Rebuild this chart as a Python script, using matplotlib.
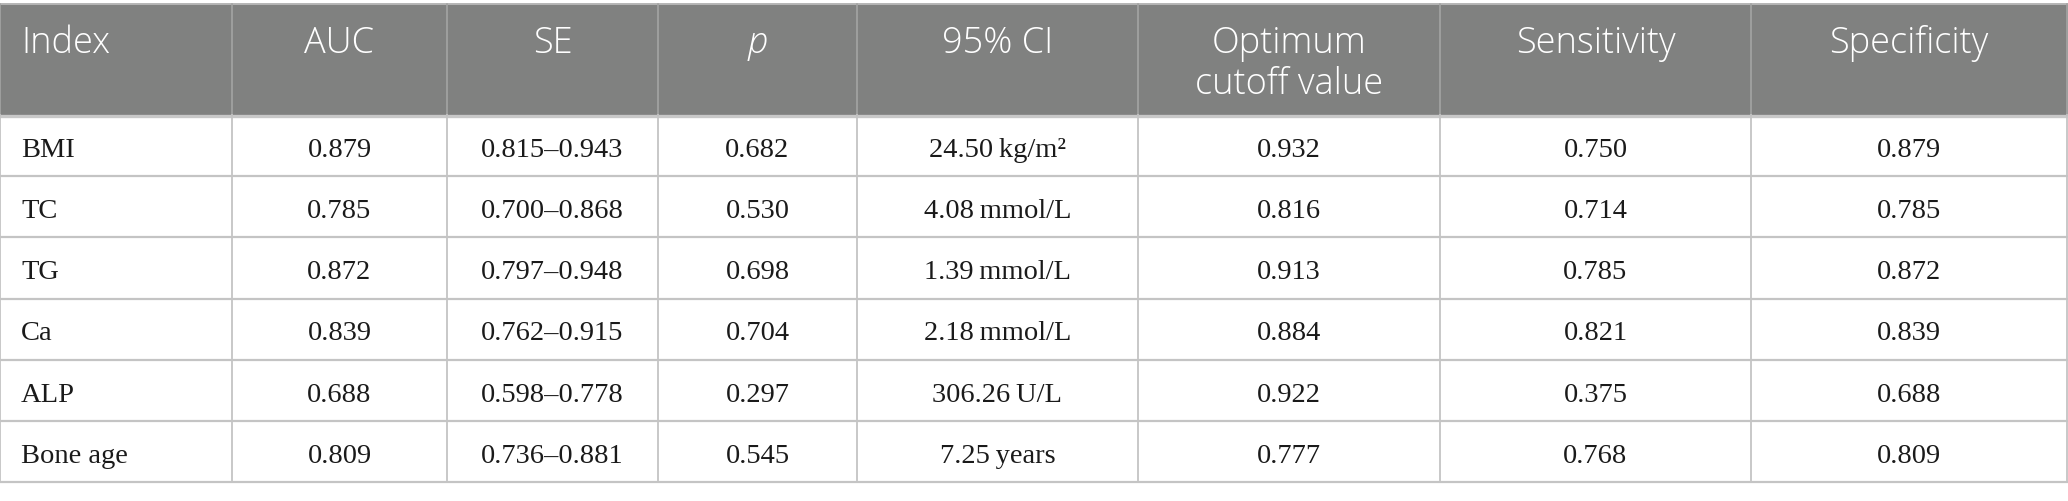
import matplotlib
matplotlib.use("Agg")
import matplotlib.pyplot as plt
from matplotlib.patches import Rectangle

# ---- data ----
headers = ["Index", "AUC", "SE", "p", "95% CI", "Optimum\ncutoff value", "Sensitivity", "Specificity"]
index_names = ["BMI", "TC", "TG", "Ca", "ALP", "Bone age"]
auc = ["0.879", "0.785", "0.872", "0.839", "0.688", "0.809"]
se = ["0.815\u20130.943", "0.700\u20130.868", "0.797\u20130.948", "0.762\u20130.915", "0.598\u20130.778", "0.736\u20130.881"]
p_vals = ["0.682", "0.530", "0.698", "0.704", "0.297", "0.545"]
ci95 = ["24.50\u2009kg/m\u00b2", "4.08\u2009mmol/L", "1.39\u2009mmol/L", "2.18\u2009mmol/L", "306.26\u2009U/L", "7.25\u2009years"]
cutoff = ["0.932", "0.816", "0.913", "0.884", "0.922", "0.777"]
sensitivity = ["0.750", "0.714", "0.785", "0.821", "0.375", "0.768"]
specificity = ["0.879", "0.785", "0.872", "0.839", "0.688", "0.809"]

columns = [index_names, auc, se, p_vals, ci95, cutoff, sensitivity, specificity]

# ---- layout (pixels) ----
W, H = 2068, 501
col_edges = [0, 232, 447, 658, 857, 1138, 1440, 1751, 2067]
top = 4
header_bottom = 115
row_h = (482 - header_bottom) / 6.0
row_edges = [header_bottom + i * row_h for i in range(7)]

header_bg = "#808180"
line_col = "#c4c4c4"
head_line_col = "#a3a4a3"

fig = plt.figure(figsize=(W / 100, H / 100), dpi=100)
ax = fig.add_axes([0, 0, 1, 1])
ax.set_xlim(0, W)
ax.set_ylim(H, 0)
ax.axis("off")

# header background
ax.add_patch(Rectangle((0, top), W, header_bottom - top, facecolor=header_bg, edgecolor="none", zorder=0))

# horizontal lines
ax.plot([0, W], [top, top], color="#b5b5b5", lw=1.4, zorder=2)
ax.plot([0, W], [header_bottom + 1, header_bottom + 1], color="#c8c8c8", lw=2.4, zorder=2)
for y in row_edges[1:]:
    ax.plot([0, W], [y, y], color=line_col, lw=1.6, zorder=2)

# vertical lines
for i, x in enumerate(col_edges):
    ax.plot([x, x], [top, header_bottom], color=head_line_col, lw=1.2, zorder=2)
    ax.plot([x, x], [header_bottom, row_edges[-1]], color=line_col, lw=1.3, zorder=2)

head_font = dict(family=["Open Sans", "DejaVu Sans"], fontsize=26, color="white", fontweight="light")
data_font = dict(family=["Liberation Serif", "DejaVu Serif"], fontsize=20.5, color="#1a1a1a")

# header text
for j, h in enumerate(headers):
    lines = h.split("\n")
    for k, line in enumerate(lines):
        yb = 53 + 41 * k
        style = "italic" if line == "p" else "normal"
        if j == 0:
            ax.text(21, yb, line, ha="left", va="baseline", fontstyle=style, **head_font)
        else:
            xc = (col_edges[j] + col_edges[j + 1]) / 2
            ax.text(xc, yb, line, ha="center", va="baseline", fontstyle=style, **head_font)

# body text
for j, col in enumerate(columns):
    for i, val in enumerate(col):
        yb = row_edges[i] + 42
        if j == 0:
            ax.text(21, yb, val, ha="left", va="baseline", **data_font)
        else:
            xc = (col_edges[j] + col_edges[j + 1]) / 2
            ax.text(xc, yb, val, ha="center", va="baseline", **data_font)

fig.savefig("out.png", dpi=100)
